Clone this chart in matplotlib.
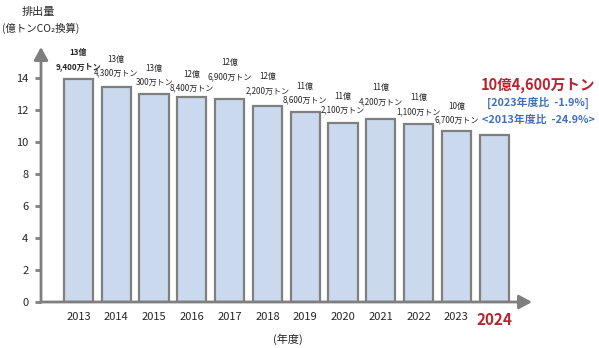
import matplotlib
matplotlib.use("Agg")
import matplotlib.pyplot as plt

plt.rcParams['font.family'] = ['Noto Sans CJK JP', 'DejaVu Sans']

# 年度別の排出量（万トンCO2換算）
years = ["2013", "2014", "2015", "2016", "2017", "2018",
         "2019", "2020", "2021", "2022", "2023", "2024"]
emissions_man_t = [139400, 134300, 130300, 128400, 126900, 122200,
                   118600, 112100, 114200, 111100, 106700, 104600]
yticks = [0, 2, 4, 6, 8, 10, 12, 14]
note_prev = "[2023年度比  -1.9%]"
note_base = "<2013年度比  -24.9%>"

# 値ラベルの棒上端からの高さ（px）
label_lift_px = [12, 14, 11.5, 8.5, 22, 16, 12, 12.5, 17.5, 12.5, 11]

GRAY = "#7f7f7f"
BAR = "#cbd9ee"
RED = "#b8232f"
BLUE = "#3f6fc0"
TXT = "#262626"

W, H = 599, 348
fig = plt.figure(figsize=(W / 100, H / 100), dpi=100)
ax = fig.add_axes([41 / W, (H - 302) / H, 491 / W, 255 / H])

vals = [v / 10000 for v in emissions_man_t]
x = list(range(len(years)))
ax.bar(x, vals, width=0.77, color=BAR, edgecolor=GRAY, linewidth=1.6, zorder=2)

ax.set_xlim(-0.99, 12.0)
ax.set_ylim(0, 255 / 16)
for s in ax.spines.values():
    s.set_visible(False)

# 矢印付きの軸
arrow = dict(arrowstyle="-|>,head_length=0.55,head_width=0.3", color=GRAY,
             lw=2.0, shrinkA=0, shrinkB=0, mutation_scale=14)
ax.annotate("", xy=(1, 0), xytext=(0, 0), xycoords="axes fraction",
            arrowprops=arrow, annotation_clip=False, zorder=3)
ax.annotate("", xy=(0, 1), xytext=(0, 0), xycoords="axes fraction",
            arrowprops=arrow, annotation_clip=False, zorder=3)

ax.set_yticks(yticks)
ax.set_yticklabels([str(t) for t in yticks])
ax.tick_params(axis="y", length=4, width=2, color=GRAY, pad=5,
               labelsize=8, labelcolor=TXT)
ax.set_xticks(x)
ax.set_xticklabels(years)
ax.tick_params(axis="x", length=0, pad=7, labelsize=8, labelcolor=TXT)
last = ax.get_xticklabels()[-1]
last.set_color(RED)
last.set_fontweight("bold")
last.set_fontsize(11)

# 棒の上の値ラベル
px2pt = 0.72
for i, v in enumerate(emissions_man_t[:-1]):
    oku, man = divmod(v, 10000)
    weight = "bold" if i == 0 else "normal"
    lift = label_lift_px[i]
    ax.annotate(f"{man:,}万トン", xy=(i, vals[i]), xytext=(0, lift * px2pt),
                textcoords="offset points", ha="center", va="center",
                fontsize=5.8, color=TXT, fontweight=weight)
    ax.annotate(f"{oku}億", xy=(i, vals[i]), xytext=(0, (lift + 14) * px2pt),
                textcoords="offset points", ha="center", va="center",
                fontsize=5.8, color=TXT, fontweight=weight)

# 最新年度の注記
oku, man = divmod(emissions_man_t[-1], 10000)
fig.text(538 / W, 1 - 85 / H, f"{oku}億{man:,}万トン", ha="center", va="center",
         fontsize=10.5, color=RED, fontweight="bold")
fig.text(538 / W, 1 - 103 / H, note_prev, ha="center", va="center",
         fontsize=7.8, color=BLUE, fontweight="bold")
fig.text(538 / W, 1 - 120 / H, note_base, ha="center", va="center",
         fontsize=7.8, color=BLUE, fontweight="bold")

fig.text(22 / W, 1 - 12 / H, "排出量", ha="left", va="center",
         fontsize=8, color=TXT)
fig.text(2 / W, 1 - 28 / H, "(億トンCO₂換算)", ha="left", va="center",
         fontsize=7.5, color=TXT)
fig.text(288 / W, 1 - 339 / H, "(年度)", ha="center", va="center",
         fontsize=8, color=TXT)

fig.savefig("out.png", dpi=100)
